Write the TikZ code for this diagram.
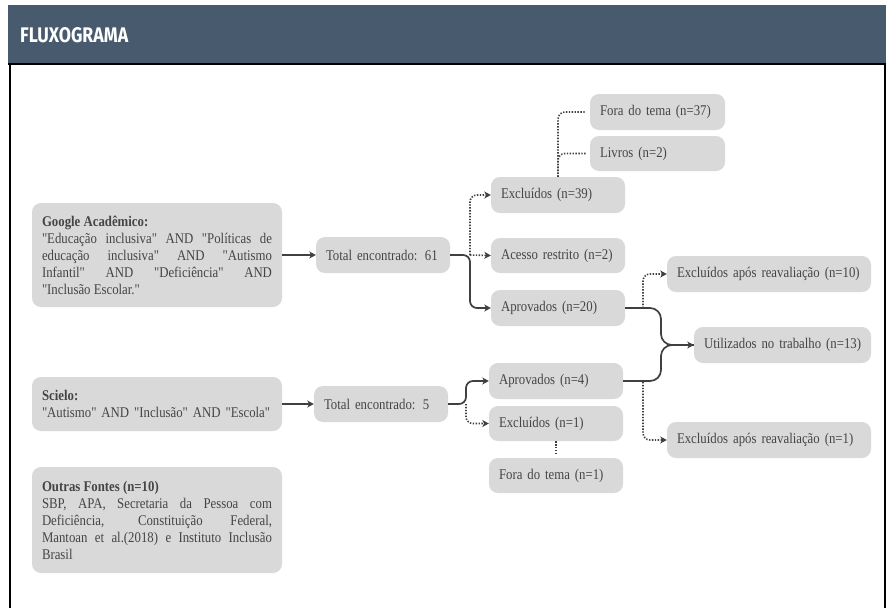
\documentclass[tikz,border=0pt]{standalone}
\usepackage{fontspec}
\setmainfont{Liberation Serif}[Ligatures=TeXOff, FakeStretch=0.865]
\newfontfamily\titlefont{Fira Sans}
\usetikzlibrary{arrows.meta}
\definecolor{hdr}{HTML}{485A6E}
\definecolor{boxgray}{HTML}{D9D9D9}
\definecolor{txtgray}{HTML}{454545}
\definecolor{linegray}{HTML}{404040}
\tikzset{
  box/.style={fill=boxgray, rounded corners=9pt, inner xsep=10pt, inner ysep=0pt,
    font=\fontsize{14.8}{17}\selectfont, text=txtgray, align=left},
  solidc/.style={draw=linegray, line width=1.7pt, rounded corners=7pt},
  dotc/.style={draw=linegray, line width=1.6pt, dash pattern=on 1.4pt off 1.5pt, rounded corners=7pt},
  tip/.style={-{Stealth[length=6.5pt,width=7pt,inset=1.8pt]}},
}
\begin{document}
\begin{tikzpicture}[x=1pt,y=-1pt]
\useasboundingbox (0,0) rectangle (890,608);
\fill[white] (0,0) rectangle (890,608);
% header
\fill[hdr] (8,5) rectangle (886,64);
\draw[line width=1.5pt] (8,64) -- (886,64);
\draw[line width=1.5pt] (10,64) -- (10,608);
\draw[line width=1.5pt] (885,64) -- (885,608);
\node[anchor=base west, inner sep=0pt, text=white] (title) at (20,42)
  {\resizebox{108pt}{15pt}{\titlefont\bfseries FLUXOGRAMA}};

% left column
\node[box, text width=230pt, minimum height=104pt, align=justify] (goog) at (157,255)
  {{\bfseries Google Acadêmico:}\\
  "Educação inclusiva" AND "Políticas de\linebreak
  educação inclusiva" AND "Autismo\linebreak
  Infantil" AND "Deficiência" AND\linebreak
  "Inclusão Escolar."};
\node[box, text width=230pt, minimum height=54pt] (scielo) at (157,404)
  {{\bfseries Scielo:}\\ \mbox{"Autismo" AND "Inclusão" AND "Escola"}};
\node[box, text width=230pt, minimum height=106pt, align=justify] (outras) at (157,520)
  {{\bfseries Outras Fontes (n=10)}\\
  SBP, APA, Secretaria da Pessoa com\linebreak
  Deficiência, Constituição Federal,\linebreak
  Mantoan et al.(2018) e Instituto Inclusão\linebreak
  Brasil};

% totals
\node[box, text width=114pt, minimum height=36pt] (t61) at (383,255) {\mbox{Total encontrado: 61}};
\node[box, text width=114pt, minimum height=36pt] (t5) at (381,404) {\mbox{Total encontrado: 5}};

% middle column
\node[box, text width=114pt, minimum height=36pt] (e39) at (558,195) {\mbox{Excluídos (n=39)}};
\node[box, text width=115pt, minimum height=36pt] (f37) at (657.5,112) {\mbox{Fora do tema (n=37)}};
\node[box, text width=115pt, minimum height=35pt] (liv) at (657.5,153.5) {\mbox{Livros (n=2)}};
\node[box, text width=114pt, minimum height=35pt] (ace) at (558,255.5) {\mbox{Acesso restrito (n=2)}};
\node[box, text width=114pt, minimum height=36pt] (a20) at (558,308) {\mbox{Aprovados (n=20)}};
\node[box, text width=114pt, minimum height=36pt] (a4) at (556,381) {\mbox{Aprovados (n=4)}};
\node[box, text width=114pt, minimum height=35pt] (e1) at (556,423.5) {\mbox{Excluídos (n=1)}};
\node[box, text width=114pt, minimum height=35pt] (f1) at (556,475.5) {\mbox{Fora do tema (n=1)}};

% right column
\node[box, text width=184pt, minimum height=36pt] (ex10) at (769,274) {\mbox{Excluídos após reavaliação (n=10)}};
\node[box, text width=157pt, minimum height=36pt] (util) at (782.5,345) {\mbox{Utilizados no trabalho (n=13)}};
\node[box, text width=184pt, minimum height=36pt] (ex1) at (769,440) {\mbox{Excluídos após reavaliação (n=1)}};

% branch points
\coordinate (b1) at (470,255);
\coordinate (b2) at (466,404);
\coordinate (j) at (661,345);
\coordinate (d1) at (643,308);
\coordinate (d2) at (643,382);

% connectors
\draw[solidc, tip] (goog.east) -- (t61.west);
\draw[solidc, tip] (scielo.east) -- (t5.west);

\draw[solidc, tip] (t61.east) -- (b1) |- (a20.west);
\draw[dotc, tip] (b1) |- (e39.west);
\draw[dotc, tip] (b1) -- (ace.west);

\draw[dotc, shorten >=4pt] (e39.north) |- (f37.west);
\draw[dotc, shorten >=4pt] (e39.north) |- (liv.west);

\draw[solidc, rounded corners=11pt] (a20.east) -| (j) -- (util.west);
\draw[solidc, rounded corners=11pt, tip] (a4.east) -| (j) -- (util.west);
\draw[dotc, tip] (d1) |- (ex10.west);
\draw[dotc, tip] (d2) |- (ex1.west);

\draw[solidc, tip] (t5.east) -- (b2) |- (a4.west);
\draw[dotc, tip] (b2) |- (e1.west);
\draw[dotc, shorten >=4pt] (e1.south) -- (f1.north);
\end{tikzpicture}
\end{document}
